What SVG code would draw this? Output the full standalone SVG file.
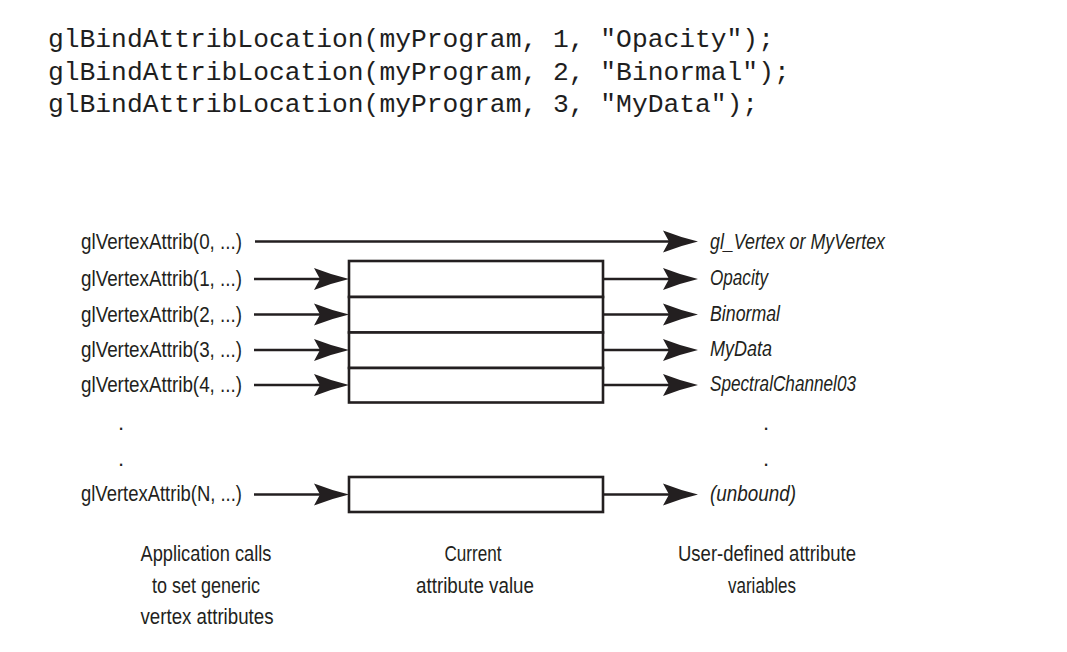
<svg xmlns="http://www.w3.org/2000/svg" width="1067" height="652" viewBox="0 0 1067 652">
<style>
.code{font-family:"Liberation Mono","Courier New",monospace;font-size:26.3px;fill:#1e1e1e}
.lbl{font-family:"Liberation Sans","Arial",sans-serif;font-size:22px;fill:#231f20}
.it{font-style:italic}
.cap{font-family:"Liberation Sans","Arial",sans-serif;font-size:22px;fill:#231f20;text-anchor:middle}
.cell{fill:#ffffff;stroke:#231f20;stroke-width:2.6}
.wire{stroke:#231f20;stroke-width:2.6;fill:none;marker-end:url(#ah)}
</style>
<defs>
<marker id="ah" markerUnits="userSpaceOnUse" viewBox="-36 -12 37 24" markerWidth="37" markerHeight="24" refX="-14" refY="0" orient="auto">
<path d="M0,0 Q-17,-4 -35,-11 L-29,0 L-35,11 Q-17,4 0,0 Z" fill="#231f20"/>
</marker>
</defs>
<rect width="1067" height="652" fill="#ffffff"/>
<g id="code">
<text class="code" x="48" y="47">glBindAttribLocation(myProgram, 1, "Opacity");</text>
<text class="code" x="48" y="80">glBindAttribLocation(myProgram, 2, "Binormal");</text>
<text class="code" x="48" y="112">glBindAttribLocation(myProgram, 3, "MyData");</text>
</g>
<g id="calls">
<text class="lbl" x="81" y="249" textLength="161" lengthAdjust="spacingAndGlyphs">glVertexAttrib(0, ...)</text>
<text class="lbl" x="81" y="286" textLength="161" lengthAdjust="spacingAndGlyphs">glVertexAttrib(1, ...)</text>
<text class="lbl" x="81" y="321.5" textLength="161" lengthAdjust="spacingAndGlyphs">glVertexAttrib(2, ...)</text>
<text class="lbl" x="81" y="357" textLength="161" lengthAdjust="spacingAndGlyphs">glVertexAttrib(3, ...)</text>
<text class="lbl" x="81" y="392" textLength="161" lengthAdjust="spacingAndGlyphs">glVertexAttrib(4, ...)</text>
<text class="lbl" x="118" y="430">.</text>
<text class="lbl" x="118" y="466">.</text>
<text class="lbl" x="81" y="501" textLength="161" lengthAdjust="spacingAndGlyphs">glVertexAttrib(N, ...)</text>
</g>
<g id="values">
<rect class="cell" x="349" y="261" width="254" height="36"/>
<rect class="cell" x="349" y="297" width="254" height="35.5"/>
<rect class="cell" x="349" y="332.5" width="254" height="35.5"/>
<rect class="cell" x="349" y="368" width="254" height="34.5"/>
<rect class="cell" x="349" y="477" width="254" height="35"/>
</g>
<g id="variables">
<text class="lbl it" x="710" y="248.5" textLength="175" lengthAdjust="spacingAndGlyphs">gl_Vertex or MyVertex</text>
<text class="lbl it" x="710" y="285" textLength="58" lengthAdjust="spacingAndGlyphs">Opacity</text>
<text class="lbl it" x="710" y="320.5" textLength="70" lengthAdjust="spacingAndGlyphs">Binormal</text>
<text class="lbl it" x="710" y="356" textLength="62" lengthAdjust="spacingAndGlyphs">MyData</text>
<text class="lbl it" x="710" y="391" textLength="146" lengthAdjust="spacingAndGlyphs">SpectralChannel03</text>
<text class="lbl" x="763" y="430">.</text>
<text class="lbl" x="763" y="466">.</text>
<text class="lbl it" x="710" y="501" textLength="86" lengthAdjust="spacingAndGlyphs">(unbound)</text>
</g>
<g id="connectors">
<line class="wire" x1="255" y1="241.5" x2="684" y2="241.5"/>
<line class="wire" x1="254" y1="279" x2="335" y2="279"/>
<line class="wire" x1="254" y1="314.5" x2="335" y2="314.5"/>
<line class="wire" x1="254" y1="350" x2="335" y2="350"/>
<line class="wire" x1="254" y1="385" x2="335" y2="385"/>
<line class="wire" x1="254" y1="494.5" x2="335" y2="494.5"/>
<line class="wire" x1="603" y1="279" x2="684" y2="279"/>
<line class="wire" x1="603" y1="314.5" x2="684" y2="314.5"/>
<line class="wire" x1="603" y1="350" x2="684" y2="350"/>
<line class="wire" x1="603" y1="385" x2="684" y2="385"/>
<line class="wire" x1="603" y1="494.5" x2="684" y2="494.5"/>
</g>
<g id="captions">
<text class="cap" x="206" y="561" textLength="131" lengthAdjust="spacingAndGlyphs">Application calls</text>
<text class="cap" x="206" y="593" textLength="108" lengthAdjust="spacingAndGlyphs">to set generic</text>
<text class="cap" x="207" y="624" textLength="133" lengthAdjust="spacingAndGlyphs">vertex attributes</text>
<text class="cap" x="473" y="561" textLength="57" lengthAdjust="spacingAndGlyphs">Current</text>
<text class="cap" x="475" y="593" textLength="118" lengthAdjust="spacingAndGlyphs">attribute value</text>
<text class="cap" x="767" y="561" textLength="178" lengthAdjust="spacingAndGlyphs">User-defined attribute</text>
<text class="cap" x="762" y="593" textLength="68" lengthAdjust="spacingAndGlyphs">variables</text>
</g>
</svg>
